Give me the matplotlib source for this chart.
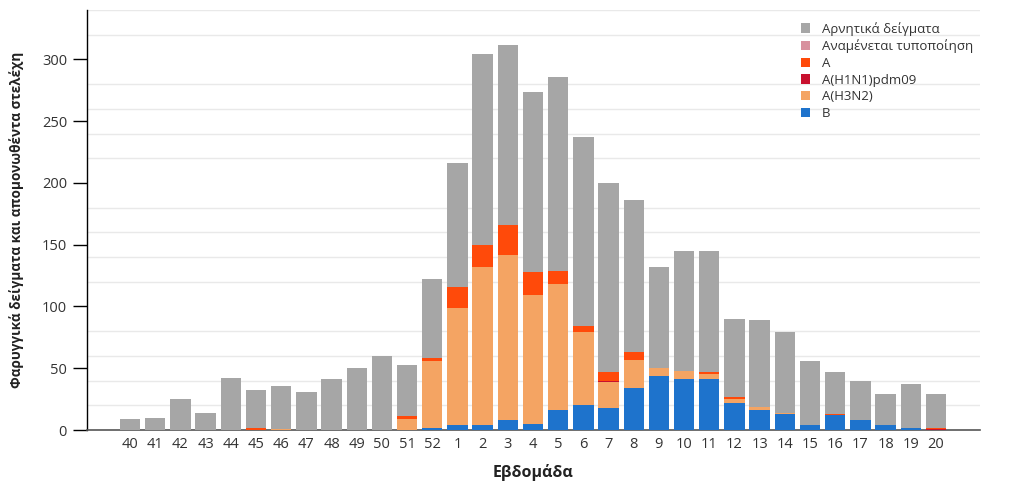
import matplotlib
matplotlib.use("Agg")
import matplotlib.pyplot as plt
from matplotlib.patches import Patch
from matplotlib.ticker import MultipleLocator
import numpy as np

plt.rcParams['font.family'] = ['Open Sans', 'DejaVu Sans']

weeks = ["40", "41", "42", "43", "44", "45", "46", "47", "48", "49", "50", "51", "52",
         "1", "2", "3", "4", "5", "6", "7", "8", "9", "10", "11", "12", "13", "14",
         "15", "16", "17", "18", "19", "20"]

totals = [9, 10, 25, 14, 42, 32, 36, 31, 41, 50, 60, 53, 122,
          216, 304, 312, 274, 286, 237, 200, 186, 132, 145, 145, 90, 89, 79,
          56, 47, 40, 29, 37, 29]

b_vals = [0, 0, 0, 0, 0, 0, 0, 0, 0, 0, 0, 0, 2,
          4, 4, 8, 5, 16, 20, 18, 34, 44, 41, 41, 22, 16, 13,
          4, 12, 8, 4, 2, 0]

h3n2_vals = [0, 0, 0, 0, 0, 0, 1, 0, 0, 0, 0, 9, 54,
             95, 128, 134, 104, 102, 59, 21, 23, 6, 7, 4, 3, 3, 1,
             0, 0, 0, 0, 0, 0]

h1n1_vals = [0, 0, 0, 0, 0, 0, 0, 0, 0, 0, 0, 0, 0,
             0, 0, 0, 0, 0, 0, 1, 0, 0, 0, 0, 0, 0, 0,
             0, 0, 0, 0, 0, 1]

a_vals = [0, 0, 0, 0, 0, 2, 0, 0, 0, 0, 0, 2, 2,
          17, 18, 24, 19, 11, 5, 7, 6, 0, 0, 2, 2, 0, 0,
          0, 1, 0, 0, 0, 1]

pending_vals = [0] * len(weeks)

negative_vals = [t - b - h3 - h1 - a - p for t, b, h3, h1, a, p in
                 zip(totals, b_vals, h3n2_vals, h1n1_vals, a_vals, pending_vals)]

series = [
    ("B", b_vals, "#1E73CC"),
    ("A(H3N2)", h3n2_vals, "#F4A463"),
    ("A(H1N1)pdm09", h1n1_vals, "#C8102E"),
    ("A", a_vals, "#FF4A0A"),
    ("Αναμένεται τυποποίηση", pending_vals, "#D8919E"),
    ("Αρνητικά δείγματα", negative_vals, "#A6A6A6"),
]

fig = plt.figure(figsize=(10.24, 4.94), dpi=100)
ax = fig.add_axes([86.5 / 1024, 1 - 430 / 494, (980 - 86.5) / 1024, 420 / 494])

x = np.arange(len(weeks))
bottom = np.zeros(len(weeks))
for name, vals, color in series:
    vals = np.array(vals, dtype=float)
    ax.bar(x, vals, bottom=bottom, width=0.81, color=color, linewidth=0, zorder=3)
    bottom += vals

ax.set_xlim(-1.73, len(weeks) - 1 + 1.75)
ax.set_ylim(0, 340)
ax.set_yticks(range(0, 301, 50))
ax.yaxis.set_minor_locator(MultipleLocator(20))
ax.grid(which='minor', axis='y', color='#E9E9E9', linewidth=1, zorder=0)
ax.grid(which='major', axis='y', visible=False)
ax.tick_params(axis='y', which='minor', length=0)
ax.tick_params(axis='y', which='major', length=10, width=1, color='black',
               labelsize=10.5, labelcolor='#333333', pad=4)
ax.set_xticks(x)
ax.set_xticklabels(weeks)
ax.tick_params(axis='x', length=0, labelsize=10.5, labelcolor='#333333', pad=5)

for s in ['top', 'right']:
    ax.spines[s].set_visible(False)
ax.spines['left'].set_color('black')
ax.spines['left'].set_linewidth(1)
ax.spines['bottom'].set_color('#555555')
ax.spines['bottom'].set_linewidth(1.2)

ax.set_xlabel("Εβδομάδα", fontsize=11.5, fontweight='bold', color='#222222', labelpad=9)
ax.set_ylabel("Φαρυγγικά δείγματα και απομονωθέντα στελέχη", fontsize=9.8,
              fontweight='bold', color='#222222', labelpad=13)

legend_order = ["Αρνητικά δείγματα", "Αναμένεται τυποποίηση", "A", "A(H1N1)pdm09", "A(H3N2)", "B"]
cmap = {n: c for n, _, c in series}
handles = [Patch(facecolor=cmap[n], edgecolor='none', label=n) for n in legend_order]
fig.legend(handles=handles, loc='upper left', bbox_to_anchor=(789 / 1024, 1 - 10 / 494),
           frameon=False, fontsize=9.5, handlelength=0.7, handleheight=0.7,
           handletextpad=0.9, labelspacing=0.28, labelcolor='#333333')

fig.savefig("out.png", dpi=100)
